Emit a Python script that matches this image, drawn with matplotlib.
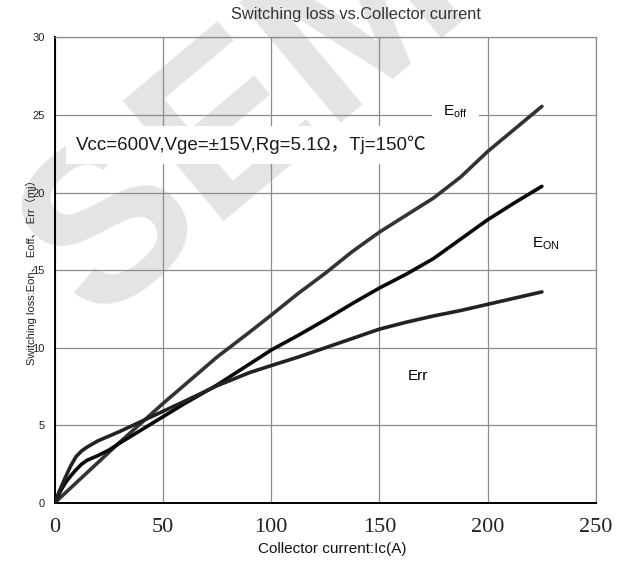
import matplotlib
matplotlib.use("Agg")
import matplotlib.pyplot as plt

# Collector current (A) sample positions for each curve
ic_off = [0, 5, 10, 15, 20, 25, 30, 40, 50, 60, 75, 90, 100, 112.5, 125,
          137.5, 150, 162.5, 175, 187.5, 200, 212.5, 225]
e_off = [0, 0.65, 1.3, 1.95, 2.6, 3.25, 3.9, 5.15, 6.4, 7.6, 9.4, 11.0, 12.1,
         13.5, 14.8, 16.2, 17.45, 18.55, 19.65, 21.0, 22.65, 24.1, 25.55]

ic_on = [0, 2.5, 5, 7.5, 10, 12.5, 15, 20, 25, 30, 40, 50, 60, 75, 90, 100,
         112.5, 125, 137.5, 150, 162.5, 175, 187.5, 200, 212.5, 225]
e_on = [0, 0.7, 1.3, 1.75, 2.15, 2.5, 2.75, 3.05, 3.4, 3.85, 4.7, 5.55, 6.4,
        7.6, 8.95, 9.85, 10.8, 11.8, 12.85, 13.85, 14.75, 15.75, 17.0, 18.25,
        19.35, 20.4]

ic_rr = ic_on
e_rr = [0, 0.85, 1.65, 2.4, 3.0, 3.35, 3.6, 4.0, 4.3, 4.6, 5.25, 5.9, 6.55,
        7.55, 8.4, 8.85, 9.4, 10.0, 10.6, 11.2, 11.65, 12.05, 12.4, 12.8,
        13.2, 13.6]

x_ticks = [0, 50, 100, 150, 200, 250]
y_ticks = [0, 5, 10, 15, 20, 25, 30]

fig = plt.figure(figsize=(6.21, 5.62), dpi=100)
fig.patch.set_facecolor("white")

# faint diagonal watermark behind everything
fig.text(0.435, 0.825, "SEMI", rotation=40, rotation_mode="anchor",
         fontsize=165, fontweight="bold", family="Liberation Sans",
         color="#e4e4e4", ha="center", va="center", zorder=0)

ax = fig.add_axes([0.0878, 0.105, 0.8720, 0.8286])
ax.set_zorder(1)
ax.patch.set_alpha(0)

ax.set_xlim(0, 250)
ax.set_ylim(0, 30)
ax.set_xticks(x_ticks)
ax.set_yticks(y_ticks)
ax.grid(True, color="#8c8c8c", linewidth=0.9)
ax.set_axisbelow(True)
ax.tick_params(length=0)
ax.tick_params(axis="x", pad=11, labelsize=16)
ax.tick_params(axis="y", pad=7, labelsize=8)
for lab in ax.get_xticklabels():
    lab.set_family("Liberation Serif")
    lab.set_color("#222222")
for lab in ax.get_yticklabels():
    lab.set_family("Liberation Sans")
    lab.set_color("#222222")

for side in ("left", "bottom"):
    ax.spines[side].set_color("black")
    ax.spines[side].set_linewidth(1.4)
for side in ("top", "right"):
    ax.spines[side].set_color("#8c8c8c")
    ax.spines[side].set_linewidth(0.9)

ax.plot(ic_off, e_off, color="#333333", lw=2.6, solid_capstyle="round",
        solid_joinstyle="round", zorder=3)
ax.plot(ic_on, e_on, color="#0a0a0a", lw=2.6, solid_capstyle="round",
        solid_joinstyle="round", zorder=3)
ax.plot(ic_rr, e_rr, color="#222222", lw=2.6, solid_capstyle="round",
        solid_joinstyle="round", zorder=3)

# condition text with white backing
ax.text(10, 23.05, "Vcc=600V,Vge=±15V,Rg=5.1Ω，Tj=150℃", fontsize=13.5,
        family=["Liberation Sans", "Noto Sans CJK SC"], color="#1a1a1a",
        ha="left", va="center", zorder=2,
        bbox=dict(facecolor="white", edgecolor="none", pad=7))

ax.text(185, 25.2, r"E$_{\mathregular{off}}$", fontsize=11,
        family="Liberation Sans", ha="center", va="center", zorder=2,
        bbox=dict(facecolor="white", edgecolor="none", pad=8))
ax.text(227, 16.7, r"E$_{\mathregular{ON}}$", fontsize=11,
        family="Liberation Sans", ha="center", va="center", zorder=2)
ax.text(168, 8.2, "Err", fontsize=11, family="Liberation Sans",
        ha="center", va="center", zorder=2)

fig.text(356 / 621, 1 - 14 / 562, "Switching loss vs.Collector current",
         fontsize=11.8, family="Liberation Sans", color="#333333",
         ha="center", va="center")
fig.text(332 / 621, 1 - 549 / 562, "Collector current:Ic(A)",
         fontsize=11, family="Liberation Sans", color="#111111",
         ha="center", va="center")
fig.text(31 / 621, 1 - 270 / 562, "Switching loss:Eon、 Eoff、 Err（mj）",
         rotation=90, fontsize=8,
         family=["Liberation Sans", "Noto Sans CJK SC"], color="#222222",
         ha="center", va="center")

fig.savefig("out.png", dpi=100, facecolor="white")
